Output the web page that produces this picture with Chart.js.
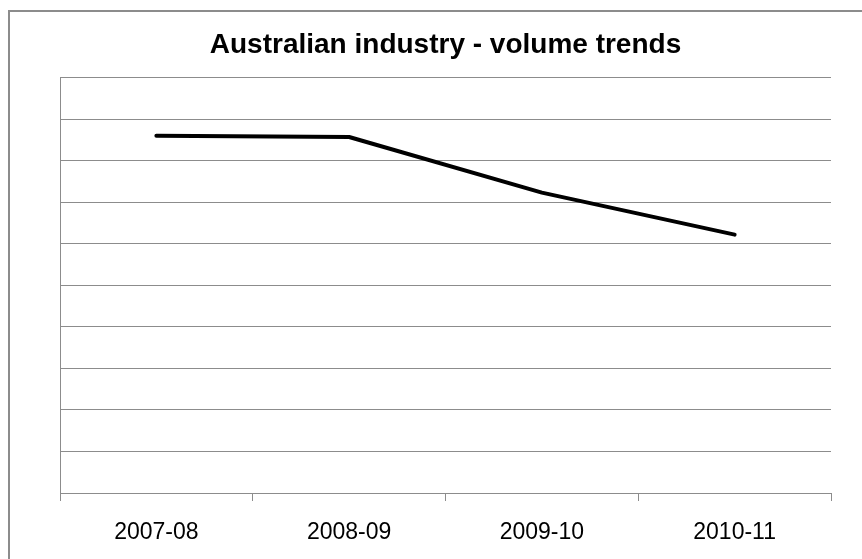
<!DOCTYPE html>
<html>
<head>
<meta charset="utf-8">
<script src="https://cdn.jsdelivr.net/npm/chart.js@4"></script>
<style>
  html, body { margin: 0; padding: 0; background: #fff; overflow: hidden; }
  #wrap { width: 862px; height: 559px; }
</style>
</head>
<body>
<div id="wrap"><canvas id="myChart" width="862" height="559"></canvas></div>
<script>
const years = ['2007-08', '2008-09', '2009-10', '2010-11'];
const volume = [8.6, 8.57, 7.23, 6.22];
const yMin = 0;
const yMax = 10;

// grey frame round the whole chart (runs off right and bottom)
const frame = {
  id: 'frame',
  beforeDraw(chart) {
    const c = chart.ctx;
    c.save();
    c.strokeStyle = '#8c8c8c';
    c.lineWidth = 2;
    c.strokeRect(9, 11, 900, 600);
    c.restore();
  }
};

const ctx = document.getElementById('myChart');

new Chart(ctx, {
  type: 'line',
  data: {
    labels: years,
    datasets: [{
      label: 'Volume',
      data: volume,
      borderColor: '#000',
      borderWidth: 4,
      borderCapStyle: 'round',
      borderJoinStyle: 'round',
      pointRadius: 0,
      tension: 0
    }]
  },
  options: {
    responsive: false,
    animation: false,
    layout: { padding: { left: 0, right: 31, top: 0, bottom: 0 } },
    plugins: {
      legend: { display: false },
      tooltip: { enabled: false },
      title: {
        display: true,
        fullSize: false,
        text: 'Australian industry - volume trends',
        color: '#000',
        font: { family: '"Liberation Sans", Arial, sans-serif', size: 28, weight: 'bold', lineHeight: 1.2 },
        padding: { top: 28, bottom: 16 }
      }
    },
    scales: {
      x: {
        offset: true,
        grid: {
          offset: true,
          drawOnChartArea: false,
          drawTicks: true,
          tickLength: 8,
          color: '#8c8c8c',
          lineWidth: 1
        },
        border: { display: true, color: '#8c8c8c', width: 1 },
        ticks: {
          color: '#000',
          padding: 18,
          font: { family: '"Liberation Sans", Arial, sans-serif', size: 23 }
        },
        afterFit(s) { s.height = 66; }
      },
      y: {
        min: yMin,
        max: yMax,
        ticks: { display: false, stepSize: 1 },
        grid: { color: '#8c8c8c', lineWidth: 1, drawTicks: false },
        border: { display: true, color: '#8c8c8c', width: 1 },
        afterFit(s) { s.width = 60; }
      }
    }
  },
  plugins: [frame]
});
</script>
</body>
</html>
